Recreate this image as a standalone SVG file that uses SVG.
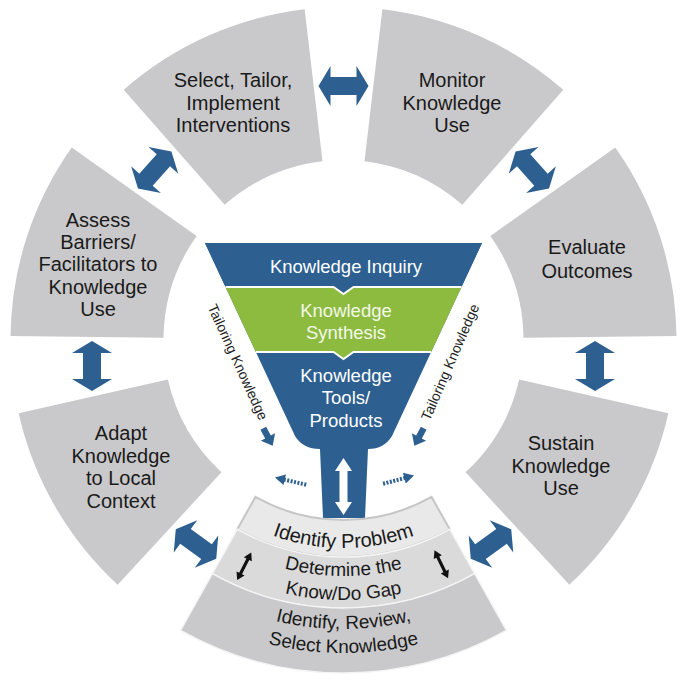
<svg xmlns="http://www.w3.org/2000/svg" width="685" height="680" viewBox="0 0 685 680">
<style>
  .seg { fill: #c9c9cb; }
  .lbl { font-family: "Liberation Sans", Arial, sans-serif; font-size: 20px; fill: #1a1a1a; text-anchor: middle; }
  .blbl { font-family: "Liberation Sans", Arial, sans-serif; font-size: 19px; fill: #1a1a1a; text-anchor: middle; }
  .flbl { font-family: "Liberation Sans", Arial, sans-serif; font-size: 18.5px; fill: #ffffff; text-anchor: middle; }
  .glbl { font-family: "Liberation Sans", Arial, sans-serif; font-size: 18.5px; fill: #f3f8e8; text-anchor: middle; }
  .tail { font-family: "Liberation Sans", Arial, sans-serif; font-size: 14px; fill: #222222; text-anchor: middle; }
  .blue { fill: #2d5f91; }
  .sep { fill: none; stroke: #ffffff; stroke-width: 2; }
  .band { stroke: #f4f4f4; stroke-width: 1.5; }
</style>
<defs>
  <polygon id="dbl" points="-25,0 -13,-20 -13,-9 13,-9 13,-20 25,0 13,20 13,9 -13,9 -13,20" fill="#2d5f91"/>
  <polygon id="blk" points="-15.5,0 -8,-4.5 -8,-1.6 8,-1.6 8,-4.5 15.5,0 8,4.5 8,1.6 -8,1.6 -8,4.5" fill="#111111"/>
  <polygon id="chunk" points="-10,-3.2 0,-3.2 0,-8 10,0 0,8 0,3.2 -10,3.2" fill="#2d5f91"/>
  <g id="dot">
    <line x1="-9" y1="0" x2="-32" y2="0" stroke="#2d5f91" stroke-width="4" stroke-dasharray="2 1.5"/>
    <polygon points="0,0 -10,-5.5 -10,5.5" fill="#2d5f91"/>
  </g>
  <path id="t1" d="M 196.42 487.08 A 208 208 0 0 0 490.58 487.08"/>
  <path id="t2" d="M 176.63 506.87 A 236 236 0 0 0 510.37 506.87"/>
  <path id="t3" d="M 159.65 523.85 A 260 260 0 0 0 527.35 523.85"/>
  <path id="t4" d="M 139.15 544.35 A 289 289 0 0 0 547.85 544.35"/>
  <path id="t5" d="M 122.18 561.32 A 313 313 0 0 0 564.82 561.32"/>
</defs>
<rect width="685" height="680" fill="#ffffff"/>

<g id="seg-select">
  <path class="seg" d="M 123.68 89.86 A 333 333 0 0 1 304.65 9.27 L 322.5 161.23 A 180 180 0 0 0 224.68 204.79 Z"/>
  <text class="lbl" x="233" y="87">Select, Tailor,</text>
  <text class="lbl" x="233" y="110">Implement</text>
  <text class="lbl" x="233" y="132">Interventions</text>
</g>
<g id="seg-monitor">
  <path class="seg" d="M 382.35 9.27 A 333 333 0 0 1 563.32 89.86 L 462.32 204.79 A 180 180 0 0 0 364.5 161.23 Z"/>
  <text class="lbl" x="452" y="87">Monitor</text>
  <text class="lbl" x="452" y="110">Knowledge</text>
  <text class="lbl" x="452" y="132">Use</text>
</g>
<g id="seg-evaluate">
  <path class="seg" d="M 615.27 147.57 A 333 333 0 0 1 676.48 335.93 L 523.49 337.8 A 180 180 0 0 0 490.41 235.99 Z"/>
  <text class="lbl" x="587" y="254">Evaluate</text>
  <text class="lbl" x="587" y="277.5">Outcomes</text>
</g>
<g id="seg-sustain">
  <path class="seg" d="M 668.35 413.21 A 333 333 0 0 1 569.33 584.73 L 465.57 472.28 A 180 180 0 0 0 519.1 379.57 Z"/>
  <text class="lbl" x="561" y="450">Sustain</text>
  <text class="lbl" x="561" y="472.5">Knowledge</text>
  <text class="lbl" x="561" y="495">Use</text>
</g>
<g id="seg-adapt">
  <path class="seg" d="M 117.67 584.73 A 333 333 0 0 1 18.65 413.21 L 167.9 379.57 A 180 180 0 0 0 221.43 472.28 Z"/>
  <text class="lbl" x="121" y="440">Adapt</text>
  <text class="lbl" x="121" y="462.5">Knowledge</text>
  <text class="lbl" x="121" y="485">to Local</text>
  <text class="lbl" x="121" y="507.5">Context</text>
</g>
<g id="seg-assess">
  <path class="seg" d="M 10.52 335.93 A 333 333 0 0 1 71.73 147.57 L 196.59 235.99 A 180 180 0 0 0 163.51 337.8 Z"/>
  <text class="lbl" x="98" y="227">Assess</text>
  <text class="lbl" x="98" y="249">Barriers/</text>
  <text class="lbl" x="98" y="271">Facilitators to</text>
  <text class="lbl" x="98" y="293.5">Knowledge</text>
  <text class="lbl" x="98" y="315.5">Use</text>
</g>

<g id="funnel">
  <path class="blue" d="M 205 243 L 482 243 L 392 436 Q 384 449 368 449 L 365 518 L 323 518 L 320 449 Q 303 449 295 436 Z"/>
  <path fill="#8dbb40" d="M 225.5 287 L 461.5 287 L 431.2 352 L 353.5 352 L 343.5 359 L 333.5 352 L 255.8 352 Z"/>
  <path class="blue" d="M 205 243 L 482 243 L 461.5 287 L 353.5 287 L 343.5 294 L 333.5 287 L 225.5 287 Z"/>
  <polyline class="sep" points="225.5,287 333.5,287 343.5,294 353.5,287 461.5,287"/>
  <polyline class="sep" points="255.8,352 333.5,352 343.5,359 353.5,352 431.2,352"/>
  <text class="flbl" x="346" y="272.5">Knowledge Inquiry</text>
  <text class="glbl" x="346" y="316.5">Knowledge</text>
  <text class="glbl" x="346" y="338.5">Synthesis</text>
  <text class="flbl" x="346" y="381.5">Knowledge</text>
  <text class="flbl" x="346" y="404">Tools/</text>
  <text class="flbl" x="346" y="426.5">Products</text>
  <polygon fill="#ffffff" points="343.5,458 352,471 347.5,471 347.5,502 352,502 343.5,515 335,502 339.5,502 339.5,471 335,471"/>
</g>

<g id="seg-bottom">
  <path fill="#e9e9e9" stroke="#c6c6c6" stroke-width="2" d="M 255.41 496.97 A 180 180 0 0 0 431.59 496.97 L 449.7 529.24 A 217 217 0 0 1 237.3 529.24 Z"/>
  <path class="band" fill="#dadada" d="M 237.3 529.24 A 217 217 0 0 0 449.7 529.24 L 474.65 573.71 A 268 268 0 0 1 212.35 573.71 Z"/>
  <path class="band" fill="#c9c9cb" d="M 212.35 573.71 A 268 268 0 0 0 474.65 573.71 L 506.46 630.4 A 333 333 0 0 1 180.54 630.4 Z"/>
  <text class="lbl" font-size="20.5"><textPath href="#t1" startOffset="50%">Identify Problem</textPath></text>
  <text class="blbl"><textPath href="#t2" startOffset="50%">Determine the</textPath></text>
  <text class="blbl"><textPath href="#t3" startOffset="50%">Know/Do Gap</textPath></text>
  <text class="blbl"><textPath href="#t4" startOffset="50%">Identify, Review,</textPath></text>
  <text class="blbl"><textPath href="#t5" startOffset="50%">Select Knowledge</textPath></text>
  <use href="#blk" transform="translate(244.2,566.3) rotate(117)"/>
  <use href="#blk" transform="translate(441.3,564.3) rotate(64)"/>
</g>

<g id="tailoring">
  <text class="tail" transform="translate(238,362) rotate(65.5)" y="5">Tailoring Knowledge</text>
  <text class="tail" transform="translate(450,362) rotate(-66.5)" y="5">Tailoring Knowledge</text>
</g>

<g id="connectors">
  <use href="#dbl" transform="translate(343.5,86)"/>
  <use href="#dbl" transform="translate(532.3,170) rotate(48)"/>
  <use href="#dbl" transform="translate(595,366) rotate(90)"/>
  <use href="#dbl" transform="translate(491,544) rotate(144)"/>
  <use href="#dbl" transform="translate(196,544) rotate(216)"/>
  <use href="#dbl" transform="translate(92,366) rotate(90)"/>
  <use href="#dbl" transform="translate(154.7,170) rotate(-48)"/>
  <use href="#chunk" transform="translate(268,437) rotate(62)"/>
  <use href="#chunk" transform="translate(419,437) rotate(118)"/>
  <use href="#dot" transform="translate(275,477.5) rotate(193)"/>
  <use href="#dot" transform="translate(414,475.5) rotate(-15)"/>
</g>
</svg>
